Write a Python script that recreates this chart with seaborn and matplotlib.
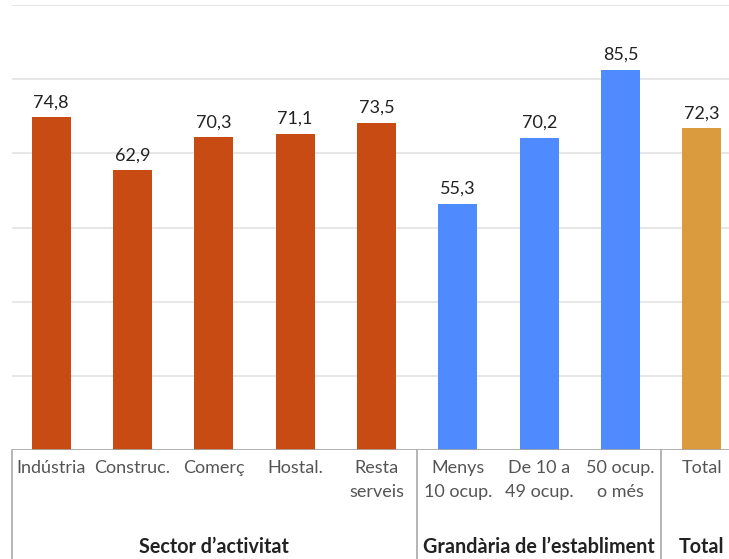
import matplotlib
matplotlib.use("Agg")
import matplotlib.pyplot as plt
import matplotlib.transforms as mtransforms
import numpy as np
import pandas as pd
import seaborn as sns

categories = ["Indústria", "Construc.", "Comerç", "Hostal.", "Resta\nserveis",
              "Menys\n10 ocup.", "De 10 a\n49 ocup.", "50 ocup.\no més", "Total"]
values = [74.8, 62.9, 70.3, 71.1, 73.5, 55.3, 70.2, 85.5, 72.3]
bar_colors = ["#C84B14"] * 5 + ["#4F8BFF"] * 3 + ["#D99B3D"]
groups = ["Sector d’activitat", "Grandària de l’establiment", "Total"]
group_spans = [(0, 4), (5, 7), (8, 8)]

sns.set_theme(style="white")
plt.rcParams["font.family"] = ["Lato", "DejaVu Sans"]

df = pd.DataFrame({"cat": categories, "val": values})

fig = plt.figure(figsize=(7.29, 5.59), dpi=100)
ax = fig.add_axes([12 / 729, 109 / 559, 729 / 729, 445 / 559])

sns.barplot(data=df, x="cat", y="val", hue="cat", palette=bar_colors,
            order=categories, hue_order=categories, legend=False,
            width=0.48, saturation=1, ax=ax, edgecolor="none")

ax.set_ylim(0, 100)
ax.set_xlim(-0.48, 8.48)
ax.set_yticks(np.linspace(0, 100, 7))
ax.set_yticklabels([])
ax.yaxis.grid(True, color="#E5E5E5", linewidth=1.3)
ax.set_axisbelow(True)
for s in ax.spines.values():
    s.set_visible(False)
ax.axhline(0, color="#A8A8A8", linewidth=1.2, zorder=3)
ax.set_xlabel("")
ax.set_ylabel("")
ax.tick_params(axis="x", length=0, pad=7)
ax.tick_params(axis="y", length=0)
for lab in ax.get_xticklabels():
    lab.set_fontsize(13)
    lab.set_color("#555555")
    lab.set_linespacing(1.6)

for c in ax.containers:
    ax.bar_label(c, labels=[f"{v:.1f}".replace(".", ",") for v in c.datavalues],
                 padding=5, fontsize=13, color="#222222")

blend = mtransforms.blended_transform_factory(ax.transData, fig.transFigure)
base_y = 109 / 559
for xpos in [-0.48, 4.5, 7.5]:
    ax.plot([xpos, xpos], [0, base_y], transform=blend, color="#A8A8A8",
            linewidth=1.2, clip_on=False)

for name, (a, b) in zip(groups, group_spans):
    ax.text((a + b) / 2, 12 / 559, name, transform=blend, ha="center",
            va="center", fontsize=14.2, fontweight="bold", color="#222222")

fig.savefig("out.png", dpi=100)
